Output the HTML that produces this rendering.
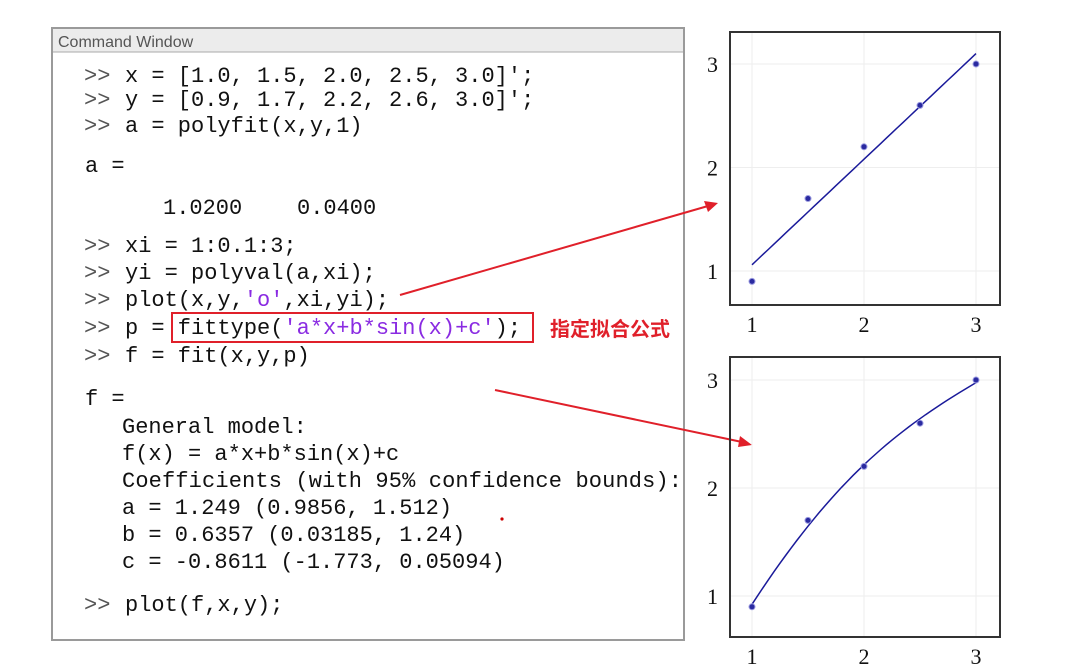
<!DOCTYPE html>
<html><head><meta charset="utf-8"><style>
html,body{margin:0;padding:0;background:#fff;width:1066px;height:671px;overflow:hidden}
svg{display:block}
.m{font-family:"Liberation Mono",monospace;font-size:22px;fill:#111}
.p{font-family:"Liberation Mono",monospace;font-size:22px;fill:#555}
.s{fill:#8a2be2}
.t{font-family:"Liberation Serif",serif;font-size:22px;fill:#111}
</style></head><body>
<svg id="root" width="1066" height="671">
<g>
<rect x="52" y="28" width="632" height="612" fill="#fff" stroke="#9a9a9a" stroke-width="2"/>
<rect x="53" y="29" width="630" height="23" fill="#ececec"/>
<line x1="53" y1="52" x2="683" y2="52" stroke="#aaa"/>
<text x="58" y="47" font-family="Liberation Sans,sans-serif" font-size="16" fill="#555">Command Window</text>
<g>
<text class="p" x="84" y="82">&gt;&gt;</text><text class="m" x="125" y="82">x = [1.0, 1.5, 2.0, 2.5, 3.0]';</text>
<text class="p" x="84" y="106">&gt;&gt;</text><text class="m" x="125" y="106">y = [0.9, 1.7, 2.2, 2.6, 3.0]';</text>
<text class="p" x="84" y="132">&gt;&gt;</text><text class="m" x="125" y="132">a = polyfit(x,y,1)</text>
<text class="m" x="85" y="172">a =</text>
<text class="m" x="163" y="214">1.0200</text><text class="m" x="297" y="214">0.0400</text>
<text class="p" x="84" y="252">&gt;&gt;</text><text class="m" x="125" y="252">xi = 1:0.1:3;</text>
<text class="p" x="84" y="279">&gt;&gt;</text><text class="m" x="125" y="279">yi = polyval(a,xi);</text>
<text class="p" x="84" y="306">&gt;&gt;</text><text class="m" x="125" y="306">plot(x,y,<tspan class="s">'o'</tspan>,xi,yi);</text>
<text class="p" x="84" y="334">&gt;&gt;</text><text class="m" x="125" y="334">p = fittype(<tspan class="s">'a*x+b*sin(x)+c'</tspan>);</text>
<text class="p" x="84" y="362">&gt;&gt;</text><text class="m" x="125" y="362">f = fit(x,y,p)</text>
<text class="m" x="85" y="405">f =</text>
<text class="m" x="122" y="433">General model:</text>
<text class="m" x="122" y="460">f(x) = a*x+b*sin(x)+c</text>
<text class="m" x="122" y="487" textLength="560">Coefficients (with 95% confidence bounds):</text>
<text class="m" x="122" y="514">a = 1.249 (0.9856, 1.512)</text>
<text class="m" x="122" y="541">b = 0.6357 (0.03185, 1.24)</text>
<text class="m" x="122" y="568">c = -0.8611 (-1.773, 0.05094)</text>
<text class="p" x="84" y="611">&gt;&gt;</text><text class="m" x="125" y="611">plot(f,x,y);</text>
</g>
</g>
<rect x="172" y="313" width="361" height="29" fill="none" stroke="#e0202a" stroke-width="2"/>
<text x="550" y="336" font-family="Liberation Sans,'Noto Sans CJK SC',sans-serif" font-size="20" font-weight="bold" fill="#e0202a">指定拟合公式</text>
<circle cx="502" cy="519" r="1.6" fill="#c00"/>
<g>
<line x1="400" y1="295" x2="708" y2="206" stroke="#e0202a" stroke-width="2"/>
<polygon points="718,203 704,201 708,212" fill="#e0202a"/>
</g>
<g>
<line x1="495" y1="390" x2="742" y2="442" stroke="#e0202a" stroke-width="2"/>
<polygon points="752,445 740,436 738,447" fill="#e0202a"/>
</g>
<g id="plot1"></g>
<g id="plot2"></g>
</svg>
<script>
const xData = [1.0, 1.5, 2.0, 2.5, 3.0];
const yData = [0.9, 1.7, 2.2, 2.6, 3.0];
const linCoef = [1.02, 0.04];
const fitCoef = [1.249, 0.6357, -0.8611];
const xTicks = [1, 2, 3];
const yTicks = [1, 2, 3];
const NS = 'http://www.w3.org/2000/svg';
function mk(tag, attrs, parent){const e=document.createElementNS(NS,tag);for(const k in attrs)e.setAttribute(k,attrs[k]);parent.appendChild(e);return e;}
function drawPlot(g, box, y1px, y3px, fn, name){
  const sx = v => 752 + (v-1)*112;
  const sy = v => y1px + (v-1)*(y3px-y1px)/2;
  xTicks.forEach(t=>{
    const l=mk('line',{x1:sx(t),x2:sx(t),y1:box.t,y2:box.b,stroke:'#eee'},g);
    
    
    const tx=mk('text',{x:sx(t),y:box.b+27,'text-anchor':'middle',class:'t'},g);
    tx.textContent=t;
    
    
  });
  yTicks.forEach(t=>{
    const l=mk('line',{x1:box.l,x2:box.r,y1:sy(t),y2:sy(t),stroke:'#eee'},g);
    
    
    const tx=mk('text',{x:box.l-12,y:sy(t)+8,'text-anchor':'end',class:'t'},g);
    tx.textContent=t;
    
    
  });
  const fr=mk('rect',{x:box.l,y:box.t,width:box.r-box.l,height:box.b-box.t,fill:'none',stroke:'#333','stroke-width':2},g);
  
  
  let d='';
  for(let i=0;i<=40;i++){const x=1+i*0.05;d+=(i?'L':'M')+sx(x).toFixed(1)+','+sy(fn(x)).toFixed(1);}
  const p=mk('path',{d:d,fill:'none',stroke:'#1a1a9a','stroke-width':1.5},g);
  
  
  xData.forEach((x,i)=>{
    const c=mk('circle',{cx:sx(x),cy:sy(yData[i]),r:3,fill:'#2a2aa0',stroke:'#9a9ae0','stroke-width':1},g);
    
    
  });
}
drawPlot(document.getElementById('plot1'),{l:730,r:1000,t:32,b:305},271,64,x=>linCoef[0]*x+linCoef[1],'linear-fit-line');
drawPlot(document.getElementById('plot2'),{l:730,r:1000,t:357,b:637},596,380,x=>fitCoef[0]*x+fitCoef[1]*Math.sin(x)+fitCoef[2],'custom-fit-curve');
</script>
</body></html>
